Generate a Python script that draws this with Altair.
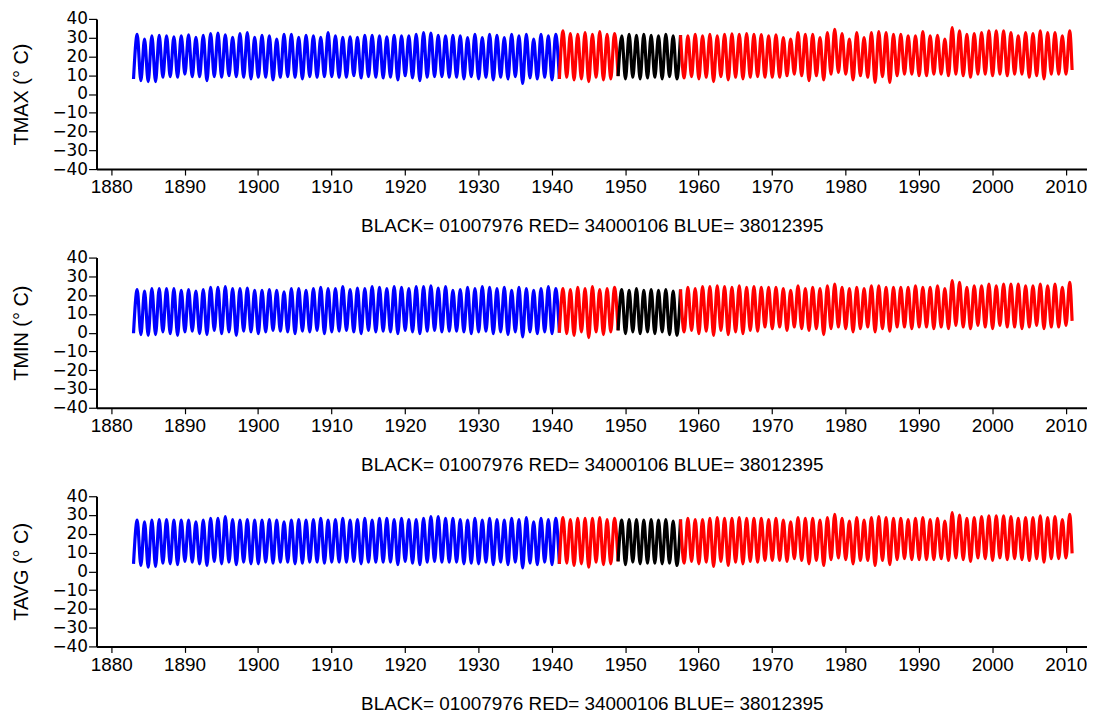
import altair as alt
import pandas as pd

# ---------------- data ----------------
YEARS = list(range(1883, 2011))

TMAX_TROUGH = [8.0, 7.1, 6.6, 6.6, 8.9, 9.2, 8.9,
               10.6, 9.2, 9.2, 7.1, 9.2, 8.9, 9.7, 9.2, 8.9, 8.0,
               8.9, 8.9, 7.5, 8.9, 9.2, 8.9, 8.0, 9.2, 8.9, 9.2,
               9.2, 8.9, 8.9, 9.7, 8.5, 9.2, 8.9, 8.5, 8.9, 7.5,
               9.7, 8.5, 7.1, 8.9, 9.2, 9.2, 8.9, 8.9, 8.0, 9.2,
               8.0, 8.9, 7.5, 8.9, 8.0, 9.2, 5.6, 8.5, 8.0, 8.9,
               7.5, 8.0, 8.9, 7.5, 8.0, 6.6, 8.9, 7.5, 8.0, 9.5,
               8.0, 8.9, 8.0, 8.5, 8.9, 8.0, 9.2, 8.0, 8.5, 9.2,
               8.0, 8.9, 6.6, 9.2, 7.5, 8.9, 8.0, 8.9, 9.2, 8.9,
               8.9, 8.9, 9.7, 10.6, 9.7, 7.1, 9.7, 7.5, 10.6, 11.5,
               10.6, 7.5, 9.7, 8.9, 6.2, 9.2, 6.2, 9.7, 10.6, 10.6,
               9.7, 9.7, 10.6, 10.6, 9.7, 10.6, 9.7, 8.9, 10.6, 10.6,
               9.7, 10.6, 9.7, 10.6, 10.6, 8.9, 9.7, 8.0, 10.6, 10.6, 10.6]
TMAX_PEAK = [31.8, 29.3, 31.0, 31.3, 31.0, 30.5, 31.0,
             31.5, 30.2, 31.3, 32.2, 32.4, 31.5, 30.2, 32.2, 32.7, 30.2,
             31.3, 31.0, 29.3, 31.8, 31.8, 30.2, 31.3, 31.0, 30.2, 32.7,
             31.0, 30.2, 30.5, 30.2, 31.3, 31.3, 31.0, 30.5, 31.3, 31.0,
             31.0, 31.8, 32.7, 32.4, 31.3, 31.0, 31.3, 31.0, 30.1, 31.8,
             30.1, 31.8, 31.3, 30.1, 31.8, 31.0, 31.8, 29.2, 31.8, 31.0,
             31.8, 33.6, 32.2, 31.8, 32.7, 31.8, 33.2, 31.8, 32.2, 31.0,
             31.8, 31.3, 31.8, 31.3, 31.0, 31.8, 31.0, 31.3, 31.0, 31.8,
             31.0, 31.8, 31.0, 31.8, 32.0, 31.8, 32.2, 31.8, 31.6, 31.0,
             31.5, 30.1, 29.2, 32.7, 31.8, 31.8, 30.1, 32.7, 34.5, 32.2,
             29.2, 32.7, 30.1, 32.7, 33.2, 32.7, 31.8, 31.8, 31.0, 31.0,
             33.2, 31.0, 31.3, 29.2, 35.4, 33.6, 31.8, 32.2, 32.7, 33.6,
             33.6, 33.6, 32.7, 31.0, 32.7, 32.2, 33.6, 32.7, 32.7, 31.0, 33.6]
TMAX_END = 12.8

TMIN_TROUGH = [-0.3, -1.0, -1.4, -1.0, 0.4, -0.5, -1.4,
               0.4, 0.8, -0.5, -1.0, 1.2, -0.5, 0.4, -1.4, 0.8, 0.4,
               -0.5, 0.4, 1.2, 0.8, 0.4, -0.5, 0.8, 0.4, 1.2, -0.5,
               0.4, 0.8, 1.2, 0.4, -0.5, 1.2, 0.4, 0.8, 0.4, -0.5,
               1.2, 0.4, -0.5, 0.8, 1.2, 0.4, 0.8, 0.8, 0.4, -0.5,
               0.4, 0.8, -0.5, 0.4, -1.0, 0.4, -2.3, 0.4, -0.5, 0.4,
               -0.5, 0.0, -0.5, -1.4, 0.4, -2.6, 0.4, -1.0, 0.4, 1.2,
               -0.5, 0.4, -0.5, 0.4, -0.5, 0.4, -1.0, -1.4, 0.4, 1.2,
               -0.5, 0.8, -1.4, 1.2, -1.0, 0.4, -0.5, 1.2, 0.8, 3.0,
               2.1, 3.0, 1.2, 3.0, 2.1, 1.2, 2.1, -1.0, 2.1, 3.0,
               2.1, 0.4, 2.1, 3.0, 0.4, 2.1, 0.8, 3.0, 3.0, 2.1,
               3.0, 3.0, 2.1, 3.0, 2.1, 3.9, 3.0, 2.1, 3.9, 3.0,
               2.1, 3.9, 3.0, 3.0, 2.1, 3.0, 3.9, 2.1, 3.0, 3.0, 3.9]
TMIN_PEAK = [23.0, 22.1, 23.5, 23.5, 23.5, 23.5, 22.6,
             23.0, 22.1, 23.0, 24.1, 24.1, 24.5, 23.5, 23.5, 23.8, 22.6,
             22.6, 23.0, 22.6, 21.7, 23.5, 23.5, 22.6, 23.5, 24.1, 23.5,
             23.5, 24.5, 23.0, 23.8, 23.5, 24.5, 24.1, 23.5, 24.5, 24.1,
             23.5, 24.5, 24.5, 25.0, 23.8, 24.5, 22.6, 23.0, 24.1, 23.5,
             24.5, 24.1, 23.5, 24.1, 22.6, 24.1, 23.5, 22.6, 23.5, 24.5,
             23.5, 23.5, 23.0, 24.1, 23.5, 24.5, 23.0, 23.5, 24.1, 23.0,
             22.6, 23.5, 22.6, 23.0, 22.6, 23.0, 22.1, 23.0, 24.1, 23.5,
             24.5, 24.5, 25.0, 24.5, 24.1, 25.0, 24.1, 24.5, 24.1, 24.1,
             24.1, 23.5, 22.6, 25.0, 23.5, 24.1, 23.5, 25.0, 25.9, 24.1,
             23.5, 24.1, 23.5, 25.0, 25.0, 24.1, 24.1, 24.1, 24.1, 25.0,
             24.1, 24.1, 25.0, 23.5, 27.7, 26.8, 24.1, 25.0, 25.0, 25.9,
             25.0, 25.9, 25.9, 25.9, 25.0, 25.0, 25.9, 25.0, 25.9, 24.1, 26.8]
TMIN_END = 6.3

TAVG_TROUGH = [4.0, 3.1, 2.2, 2.6, 4.4, 4.0, 3.6,
               5.3, 4.9, 4.0, 3.1, 5.3, 4.0, 4.9, 3.6, 4.9, 4.0,
               4.0, 4.9, 4.4, 4.9, 4.9, 4.0, 4.4, 4.9, 4.9, 4.4,
               4.9, 4.9, 4.9, 5.3, 4.0, 4.9, 4.9, 4.9, 4.9, 3.6,
               5.3, 4.4, 3.6, 4.9, 5.3, 4.9, 4.9, 4.9, 4.0, 4.4,
               4.0, 4.9, 3.6, 4.9, 3.6, 4.9, 1.8, 4.4, 3.6, 4.9,
               3.6, 4.0, 4.4, 3.1, 4.0, 2.2, 4.9, 3.6, 4.0, 5.3,
               3.6, 4.9, 4.0, 4.4, 4.4, 4.0, 4.4, 3.1, 4.4, 5.3,
               4.0, 4.9, 2.6, 5.3, 3.1, 4.9, 4.0, 5.3, 4.9, 5.8,
               5.8, 5.8, 5.3, 6.7, 5.8, 4.0, 5.8, 3.1, 6.2, 7.1,
               6.2, 4.0, 5.8, 5.8, 3.1, 5.8, 3.6, 6.2, 6.7, 6.2,
               6.2, 6.2, 6.2, 6.7, 5.8, 7.1, 6.2, 5.3, 7.1, 6.7,
               5.8, 7.1, 6.2, 6.7, 6.2, 5.8, 6.7, 4.9, 6.7, 6.7, 7.1]
TAVG_PEAK = [27.3, 26.4, 27.3, 27.6, 27.6, 27.3, 27.3,
             27.3, 26.4, 27.3, 28.2, 28.2, 29.1, 27.6, 27.3, 27.6, 27.3,
             27.3, 27.6, 27.3, 26.4, 27.3, 27.6, 27.3, 27.6, 28.2, 27.3,
             27.6, 28.2, 27.3, 27.6, 28.2, 27.3, 28.2, 28.2, 27.6, 28.2,
             27.6, 27.6, 28.2, 29.1, 29.1, 28.2, 28.2, 27.6, 27.3, 28.2,
             27.3, 28.2, 27.6, 27.3, 28.2, 27.6, 28.6, 26.4, 28.2, 27.6,
             28.2, 28.6, 27.6, 28.2, 28.2, 28.2, 28.6, 27.6, 28.2, 27.3,
             27.6, 27.6, 27.3, 27.6, 27.3, 27.6, 26.8, 27.6, 28.2, 27.6,
             27.6, 28.2, 28.6, 28.2, 28.2, 28.6, 28.2, 28.2, 28.2, 27.6,
             28.2, 27.3, 26.4, 28.6, 28.2, 28.2, 27.3, 28.6, 30.4, 28.2,
             26.8, 28.6, 27.3, 28.6, 29.1, 28.6, 28.2, 28.2, 27.6, 28.2,
             28.6, 27.6, 28.2, 26.8, 31.3, 30.0, 28.2, 28.6, 29.1, 29.5,
             29.5, 29.5, 29.1, 28.2, 28.6, 28.6, 29.5, 28.6, 29.1, 27.6, 30.4]
TAVG_END = 9.6

# station spans (station id, segment name, start, end in decimal years)
SPAN_STATION = ["38012395", "34000106", "01007976", "34000106"]
SPAN_PART = ["blue", "red1", "black", "red2"]
SPAN_START = [1883.0, 1941.04, 1949.04, 1957.54]
SPAN_END = [1941.04, 1949.04, 1957.54, 2011.0]

STATIONS = ["01007976", "34000106", "38012395"]
STATION_COLORS = ["#000000", "#ff0000", "#0000ff"]

TROUGH_OFFSET = 0.04   # mid January
PEAK_OFFSET = 0.54     # mid July
END_TIME = 2010.87

SUBTITLE = "BLACK= 01007976 RED= 34000106 BLUE= 38012395"
X_TICKS = list(range(1880, 2011, 10))
Y_TICKS = list(range(-40, 41, 10))


def build(troughs, peaks, end_val):
    pts = []
    for yr, tr, pk in zip(YEARS, troughs, peaks):
        pts.append((yr + TROUGH_OFFSET, tr))
        pts.append((yr + PEAK_OFFSET, pk))
    pts.append((END_TIME, end_val))
    rows = []
    for st, part, t0, t1 in zip(SPAN_STATION, SPAN_PART, SPAN_START, SPAN_END):
        for t, v in pts:
            if t0 - 1e-9 <= t <= t1 + 1e-9:
                rows.append({"t": t, "v": v, "station": st, "part": part})
    return pd.DataFrame(rows)


FONT = "Liberation Sans"


def panel(df, ytitle):
    return alt.Chart(df).mark_line(strokeWidth=3.2, interpolate="monotone").encode(
        x=alt.X("t:Q",
                scale=alt.Scale(domain=[1878.0, 2012.9], nice=False, zero=False),
                axis=alt.Axis(values=X_TICKS, format="d", title=SUBTITLE, grid=False,
                              domainColor="black", domainWidth=2, tickColor="black",
                              tickSize=6, tickWidth=1.2, labelFont=FONT, labelFontSize=19,
                              labelColor="black", labelPadding=3, titleFont=FONT,
                              titleFontSize=19, titleFontWeight="normal", titleColor="black",
                              titlePadding=20)),
        y=alt.Y("v:Q",
                scale=alt.Scale(domain=[-40, 40], nice=False, zero=False),
                axis=alt.Axis(values=Y_TICKS, title=ytitle, grid=False,
                              domainColor="black", domainWidth=2, tickColor="black",
                              tickSize=8, tickWidth=1.2, labelFont="DejaVu Sans",
                              labelFontSize=17, labelColor="black", labelPadding=1,
                              titleFont=FONT, titleFontSize=20, titleFontWeight="normal",
                              titleColor="black", titlePadding=21)),
        color=alt.Color("station:N",
                        scale=alt.Scale(domain=STATIONS, range=STATION_COLORS),
                        legend=None),
        detail="part:N",
    ).properties(width=996, height=151)


p1 = panel(build(TMAX_TROUGH, TMAX_PEAK, TMAX_END), "TMAX (° C)")
p2 = panel(build(TMIN_TROUGH, TMIN_PEAK, TMIN_END), "TMIN (° C)")
p3 = panel(build(TAVG_TROUGH, TAVG_PEAK, TAVG_END), "TAVG (° C)")

chart = alt.vconcat(p1, p2, p3, spacing=13).properties(
    padding={"left": 3, "top": 0, "right": 0, "bottom": 0}
).configure_view(stroke=None)

chart.save("out.html", embed_options={"renderer": "svg", "actions": False})
